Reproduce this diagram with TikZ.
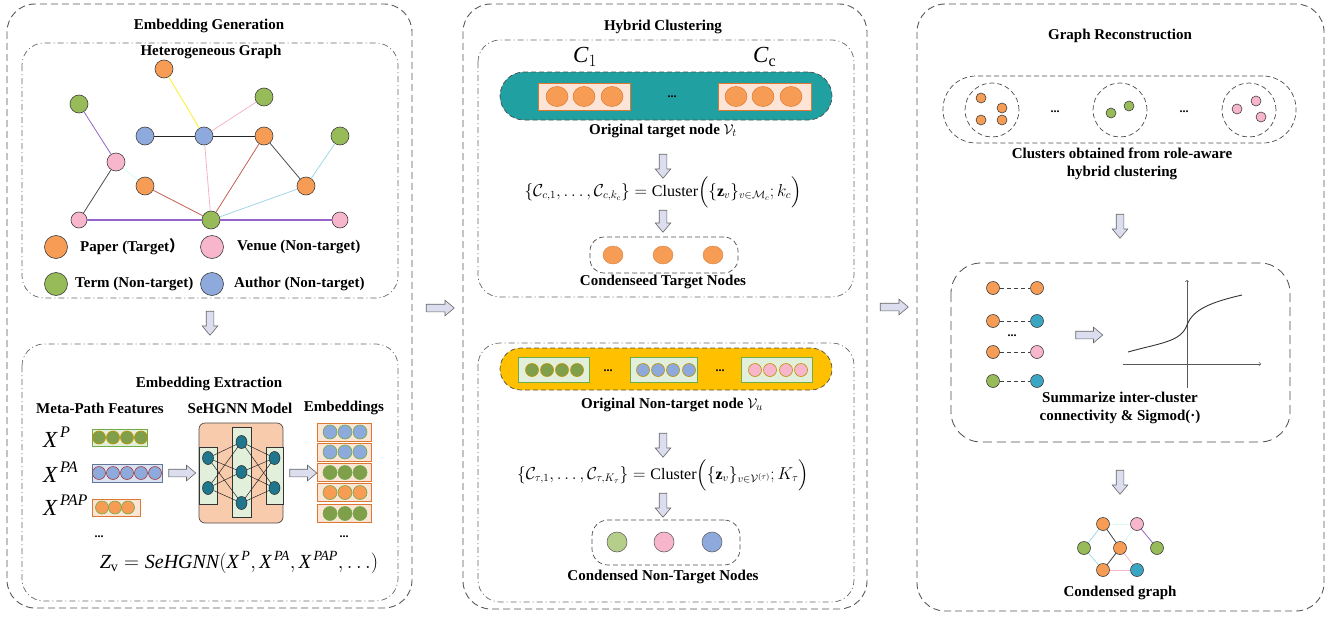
\documentclass[tikz,border=0pt]{standalone}
\usepackage{fontspec}
\setmainfont{Liberation Serif}
\newfontfamily\cjk{Noto Sans CJK SC}
\usepackage{amsmath}
\usepackage{xcolor}
\usetikzlibrary{shapes.geometric,shapes.arrows}

\definecolor{paperc}{RGB}{246,156,84}
\definecolor{venuec}{RGB}{247,182,203}
\definecolor{termc}{RGB}{150,187,88}
\definecolor{authorc}{RGB}{142,169,219}
\definecolor{tealc}{RGB}{58,166,196}
\definecolor{neuronc}{RGB}{32,118,140}
\definecolor{pillteal}{RGB}{32,160,160}
\definecolor{pillgold}{RGB}{255,192,0}
\definecolor{peach}{RGB}{248,203,173}
\definecolor{lightpeach}{RGB}{252,228,214}
\definecolor{lightgreen}{RGB}{226,239,218}
\definecolor{lightblue}{RGB}{218,227,243}
\definecolor{arrowfill}{RGB}{221,221,240}
\definecolor{bordergreen}{RGB}{112,173,71}
\definecolor{bordergold}{RGB}{191,144,0}
\definecolor{bordermaroon}{RGB}{160,64,64}
\definecolor{borderorange}{RGB}{220,120,50}
\definecolor{edgered}{RGB}{196,96,84}
\definecolor{edgepurple}{RGB}{150,100,200}
\definecolor{edgecyan}{RGB}{160,215,230}
\definecolor{edgeice}{RGB}{215,250,250}
\definecolor{edgepink}{RGB}{245,180,200}
\definecolor{edgeyellow}{RGB}{250,240,40}

% italic letters as in Times
\newcommand{\ti}[1]{\textit{#1}}

\begin{document}
\begin{tikzpicture}[x=1pt,y=-1pt]
\tikzstyle{panel} = [draw=black!65, line width=0.9pt, dash pattern=on 7pt off 4pt, rounded corners=28pt]
\tikzstyle{subpanel} = [draw=black!60, line width=0.7pt, dash pattern=on 6pt off 3pt on 1pt off 3pt, rounded corners=22pt]
\tikzstyle{title} = [font=\bfseries\fontsize{15}{18}\selectfont, inner sep=0pt]
\tikzstyle{vert} = [circle, draw=black!75, line width=0.6pt, minimum size=18pt, inner sep=0pt]
\tikzstyle{dot} = [circle, draw=black!75, line width=0.6pt, minimum size=13pt, inner sep=0pt]
\tikzstyle{neuron} = [ellipse, draw=black!85, fill=neuronc, line width=0.5pt, minimum width=11pt, minimum height=13pt, inner sep=0pt]
\tikzstyle{bar} = [rectangle, line width=0.7pt, inner sep=0pt]
\tikzstyle{pill} = [rectangle, draw=black!70, line width=0.7pt, dash pattern=on 5pt off 3pt, inner sep=0pt]
\tikzstyle{ring} = [circle, draw=black!70, line width=0.7pt, dash pattern=on 5pt off 3pt, inner sep=0pt, minimum size=54pt]
\tikzstyle{bigarrow} = [single arrow, draw=black!60, fill=arrowfill, line width=0.6pt, inner sep=3.5pt, single arrow head extend=4pt, single arrow tip angle=80, minimum height=28pt]
\tikzstyle{downarrow} = [bigarrow, shape border rotate=270, minimum height=24pt]
\tikzstyle{link} = [line width=0.8pt]
\tikzstyle{mathbig} = [font=\fontsize{23}{27}\selectfont, inner sep=0pt]
\tikzstyle{formula} = [font=\fontsize{16}{19}\selectfont, inner sep=0pt]
\tikzstyle{dotdot} = [font=\bfseries\fontsize{12}{14}\selectfont, inner sep=0pt]
\useasboundingbox (0,0) rectangle (1335,618);

% panels
\draw[panel] (7,4) rectangle (412,608);
\draw[subpanel] (22,43) rectangle (398,298);
\draw[subpanel] (22,344) rectangle (398,601);
\draw[panel] (463,4) rectangle (867,609);
\draw[subpanel] (478,40) rectangle (854,297);
\draw[subpanel] (478,343) rectangle (854,602);
\draw[panel] (917,4) rectangle (1324,611);

% embedding generation
\node[title] (genT) at (209,26) {Embedding Generation};
\node[title] (hetT) at (211,52) {Heterogeneous Graph};
\node[vert, fill=paperc] (pTop) at (164,69) {};
\node[vert, fill=termc] (tTL) at (79,104) {};
\node[vert, fill=termc] (tTR) at (264,97) {};
\node[vert, fill=authorc] (aL) at (145,136) {};
\node[vert, fill=authorc] (aC) at (204,136) {};
\node[vert, fill=paperc] (pMR) at (264,136) {};
\node[vert, fill=termc] (tR) at (340,136) {};
\node[vert, fill=venuec] (vL) at (116,162) {};
\node[vert, fill=paperc] (pM) at (145,186) {};
\node[vert, fill=paperc] (pR) at (306,186) {};
\node[vert, fill=venuec, minimum size=16pt] (vBL) at (79,220) {};
\node[vert, fill=termc] (tB) at (211,220) {};
\node[vert, fill=venuec, minimum size=16pt] (vBR) at (340,220) {};
\draw[link, edgeyellow] (pTop) -- (aC);
\draw[link, edgepink] (tTR) -- (aC);
\draw[link, black!85] (aL) -- (aC);
\draw[link, black!85] (aC) -- (pMR);
\draw[link, edgepurple] (tTL) -- (vL);
\draw[link, edgeice] (vL) -- (pM);
\draw[link, black!70] (vL) -- (vBL);
\draw[link, edgered] (pM) -- (tB);
\draw[link, edgepink] (aC) -- (tB);
\draw[link, edgered] (pMR) -- (tB);
\draw[link, black!70] (pMR) -- (pR);
\draw[link, edgecyan] (tR) -- (pR);
\draw[link, edgecyan] (pR) -- (tB);
\draw[line width=1.1pt, edgepurple] (vBL) -- (tB);
\draw[line width=1.1pt, edgepurple] (tB) -- (vBR);
% legend
\node[vert, fill=paperc, minimum size=23pt] (lgP) at (56,247) {};
\node[vert, fill=venuec, minimum size=23pt] (lgV) at (212,247) {};
\node[vert, fill=termc, minimum size=23pt] (lgT) at (56,284) {};
\node[vert, fill=authorc, minimum size=23pt] (lgA) at (212,284) {};
\node[title, anchor=west] (lgPt) at (80,247) {Paper (Target{\cjk ）}};
\node[title, anchor=west] (lgVt) at (237,247) {Venue (Non-target)};
\node[title, anchor=west] (lgTt) at (75,284) {Term (Non-target)};
\node[title, anchor=west] (lgAt) at (234,284) {Author (Non-target)};

\node[downarrow] (arGen) at (210,321) {};

% embedding extraction
\node[title] (extT) at (209,384) {Embedding Extraction};
\node[title] (metaT) at (100,408) {Meta-Path Features};
\node[title] (modelT) at (240,408) {SeHGNN Model};
\node[title] (embT) at (344,408) {Embeddings};
\node[mathbig, anchor=base west] (xP) at (43,447) {$\ti{X}^{\,\ti{P}}$};
\node[mathbig, anchor=base west] (xPA) at (43,482) {$\ti{X}^{\,\ti{PA}}$};
\node[mathbig, anchor=base west] (xPAP) at (43,515) {$\ti{X}^{\,\ti{PAP}}$};
\node[bar, draw=bordergreen, fill=lightgreen, minimum width=55pt, minimum height=17pt] (featP) at (119.5,437.5) {};
\foreach \x in {99,113,127,141} \node[dot, fill=termc!85!black, draw=bordergold] (fp\x) at (\x,437.5) {};
\node[bar, draw=authorc!70!black, fill=lightblue, minimum width=70pt, minimum height=18pt] (featPA) at (127,473) {};
\foreach \x in {99,113,127,141,155} \node[dot, fill=authorc, draw=bordermaroon] (fpa\x) at (\x,473) {};
\node[bar, draw=borderorange, fill=lightpeach, minimum width=48pt, minimum height=17pt] (featPAP) at (116,507.5) {};
\foreach \x in {102,115,128} \node[dot, fill=paperc, draw=bordergreen] (fpap\x) at (\x,507.5) {};
\node[dotdot] (moreF) at (99,537) {...};
\node[bigarrow, minimum height=27pt] (arIn) at (180,473) {};
% model
\node[bar, draw=black!70, fill=peach, rounded corners=6pt, minimum width=84pt, minimum height=100pt] (model) at (241,473) {};
\node[bar, draw=black!80, fill=lightgreen, minimum width=18pt, minimum height=57pt] (colL) at (208,475.5) {};
\node[bar, draw=black!80, fill=lightgreen, minimum width=19pt, minimum height=90pt] (colM) at (241.5,472) {};
\node[bar, draw=black!80, fill=lightgreen, minimum width=17pt, minimum height=57pt] (colR) at (274.5,475.5) {};
\foreach \i/\y in {1/458,2/488} \node[neuron] (nl\i) at (208,\y) {};
\foreach \i/\y in {1/442,2/472,3/503} \node[neuron] (nm\i) at (241.5,\y) {};
\foreach \i/\y in {1/458,2/488} \node[neuron] (nr\i) at (274.5,\y) {};
\foreach \i in {1,2} \foreach \j in {1,2,3} {
  \draw[black!85, line width=0.5pt] (nl\i) -- (nm\j);
  \draw[black!85, line width=0.5pt] (nm\j) -- (nr\i);
}
\node[bigarrow, minimum height=27pt] (arOut) at (301,473) {};
\foreach \k/\y/\c in {1/432/authorc,2/452/authorc,3/472.5/termc!85!black,4/492.5/paperc,5/513.5/termc!85!black} {
  \node[bar, draw=borderorange, fill=lightpeach, minimum width=54pt, minimum height=18pt] (emb\k) at (344,\y) {};
  \foreach \x in {330,345,360} \node[dot, fill=\c, draw=bordergreen, minimum size=14pt] (emb\k-\x) at (\x,\y) {};
}
\node[dotdot] (moreE) at (344,537) {...};
\node[font=\fontsize{20}{24}\selectfont, inner sep=0pt, anchor=base] (zv) at (239,568)
  {$\ti{Z}_{\mathrm{v}} = \ti{SeHGNN}(\ti{X}^{\,\ti{P}}, \ti{X}^{\,\ti{PA}}, \ti{X}^{\,\ti{PAP}},\ldots)$};

\node[bigarrow] (arGC) at (438,308) {};

% hybrid clustering, target part
\node[title] (hybT) at (663,27) {Hybrid Clustering};
\node[mathbig, anchor=base west] (c1) at (573,63) {$\ti{C}_1$};
\node[mathbig, anchor=base west] (cc) at (753,63) {$\ti{C}_{\mathrm{c}}$};
\node[pill, fill=pillteal, rounded corners=24pt, minimum width=332pt, minimum height=48pt] (tpill) at (666,96) {};
\node[bar, draw=borderorange, fill=lightpeach, minimum width=92pt, minimum height=27pt] (grp1) at (584,96.5) {};
\node[bar, draw=borderorange, fill=lightpeach, minimum width=93pt, minimum height=27pt] (grpc) at (764.5,96.5) {};
\foreach \x in {557,584,612,736,763,791} \node[ellipse, draw=borderorange, fill=paperc, line width=0.5pt, minimum width=22pt, minimum height=20pt, inner sep=0pt] (to\x) at (\x,96.5) {};
\node[dotdot] (moreT) at (672,97) {...};
\node[title] (origT) at (663,131) {Original target node $\mathcal{V}_t$};
\node[downarrow] (arT1) at (663,164) {};
\node[formula] (clT) at (663,192)
  {$\{\mathcal{C}_{c,1},\ldots,\mathcal{C}_{c,k_c}\} = \mathrm{Cluster}\Big(\{\mathbf{z}_v\}_{v\in\mathcal{M}_c};k_c\Big)$};
\node[downarrow, minimum height=22pt] (arT2) at (663,219) {};
\node[pill, rounded corners=14pt, minimum width=148pt, minimum height=36pt] (condT) at (664,255) {};
\foreach \x in {613,663,713} \node[ellipse, draw=paperc!85!black, fill=paperc, line width=0.4pt, minimum width=20pt, minimum height=18pt, inner sep=0pt] (ct\x) at (\x,255) {};
\node[title] (condTT) at (663,282) {Condenseed Target Nodes};

% hybrid clustering, non-target part
\node[pill, fill=pillgold, rounded corners=21pt, minimum width=332pt, minimum height=42pt] (npill) at (666,369) {};
\node[bar, draw=bordergreen, fill=lightgreen, minimum width=71pt, minimum height=25pt] (grpT) at (553.5,369.5) {};
\node[bar, draw=bordergreen, fill=lightgreen, minimum width=67pt, minimum height=25pt] (grpA) at (663.5,369.5) {};
\node[bar, draw=bordergreen, fill=lightgreen, minimum width=71pt, minimum height=25pt] (grpV) at (776.5,369.5) {};
\foreach \x in {532,547,562,577} \node[dot, fill=termc!85!black, draw=bordergold] (nt\x) at (\x,370) {};
\foreach \x in {643,658,673,689} \node[dot, fill=authorc, draw=bordergold] (na\x) at (\x,370) {};
\foreach \x in {755,770,786,801} \node[dot, fill=venuec, draw=bordergold] (nv\x) at (\x,370) {};
\node[dotdot] (moreN1) at (608,371) {...};
\node[dotdot] (moreN2) at (720,371) {...};
\node[title] (origN) at (672,405) {Original Non-target node $\mathcal{V}_u$};
\node[downarrow] (arN1) at (663,443) {};
\node[formula] (clN) at (663,475)
  {$\{\mathcal{C}_{\tau,1},\ldots,\mathcal{C}_{\tau,K_\tau}\} = \mathrm{Cluster}\Big(\{\mathbf{z}_v\}_{v\in\mathcal{V}^{(\tau)}};K_\tau\Big)$};
\node[downarrow] (arN2) at (663,503) {};
\node[pill, rounded corners=16pt, minimum width=148pt, minimum height=45pt] (condN) at (666,542.5) {};
\node[vert, fill=termc!70!white, draw=black!60, minimum size=20pt] (cnT) at (617,542) {};
\node[vert, fill=venuec, draw=black!60, minimum size=20pt] (cnV) at (664,542) {};
\node[vert, fill=authorc, draw=black!60, minimum size=20pt] (cnA) at (712,542) {};
\node[title] (condNT) at (663,577) {Condensed Non-Target Nodes};

\node[bigarrow] (arCR) at (892,307) {};

% graph reconstruction
\node[title] (recT) at (1120,36) {Graph Reconstruction};
\node[pill, rounded corners=33pt, minimum width=353pt, minimum height=67pt] (clPill) at (1119.5,109.5) {};
\node[ring] (clus1) at (992,110) {};
\node[ring] (clus2) at (1120,110) {};
\node[ring] (clus3) at (1249,110) {};
\foreach \i/\x/\y in {1/981/98,2/1002/108,3/981/120,4/1002/120} \node[dot, fill=paperc, minimum size=10pt] (co\i) at (\x,\y) {};
\foreach \i/\x/\y in {1/1111/113,2/1129/106} \node[dot, fill=termc, minimum size=10pt] (cg\i) at (\x,\y) {};
\foreach \i/\x/\y in {1/1237/109,2/1256/101,3/1261/117} \node[dot, fill=venuec, minimum size=10pt] (cp\i) at (\x,\y) {};
\node[dotdot] (moreC1) at (1055,112) {...};
\node[dotdot] (moreC2) at (1184,112) {...};
\node[title, align=center] (clusT) at (1122,164) {Clusters obtained from role-aware\\hybrid clustering};
\node[downarrow] (arR1) at (1120,224) {};
\draw[draw=black!70, line width=0.8pt, dash pattern=on 9pt off 5pt, rounded corners=30pt] (951,263) rectangle (1290,442);
% inter-cluster pairs
\foreach \i/\y/\a/\b in {1/288/paperc/paperc,2/321/paperc/tealc,3/352/paperc/venuec,4/381/termc/tealc} {
  \node[dot, fill=\a] (pl\i) at (993,\y) {};
  \node[dot, fill=\b] (pr\i) at (1037,\y) {};
  \draw[black!75, line width=0.7pt, dash pattern=on 4pt off 3pt] (pl\i) -- (pr\i);
}
\node[dotdot] (moreP) at (1012,336) {...};
\node[bigarrow, minimum height=27pt] (arSig) at (1087,335) {};
% sigmoid
\coordinate (yB) at (1187,388);
\coordinate (yT) at (1187,280);
\coordinate (xL) at (1123,364);
\coordinate (xR) at (1261,364);
\draw[->, black!65, line width=0.6pt] (yB) -- (yT);
\draw[->, black!65, line width=0.6pt] (xL) -- (xR);
\draw[black!80, line width=0.9pt] (1128,352) .. controls (1160,343) and (1181,342) .. (1187,325) .. controls (1193,309) and (1212,302) .. (1242,295);
\node[title, align=center] (sumT) at (1120,408) {Summarize inter-cluster\\connectivity \& Sigmod(·)};
\node[downarrow] (arR2) at (1120,480) {};
% condensed graph
\node[dot, fill=paperc] (gA) at (1103,524) {};
\node[dot, fill=venuec] (gB) at (1137,524) {};
\node[dot, fill=termc] (gC) at (1084,548) {};
\node[dot, fill=paperc] (gD) at (1120,548) {};
\node[dot, fill=termc] (gE) at (1157,548) {};
\node[dot, fill=paperc] (gF) at (1103,570) {};
\node[dot, fill=tealc] (gG) at (1137,570) {};
\draw[link, edgeice] (gA) -- (gB);
\draw[link, edgecyan] (gA) -- (gC);
\draw[link, black!75] (gA) -- (gD);
\draw[link, edgeice] (gB) -- (gD);
\draw[link, edgepurple] (gB) -- (gE);
\draw[link, edgecyan] (gC) -- (gF);
\draw[link, black!75] (gD) -- (gF);
\draw[link, edgepink] (gD) -- (gG);
\draw[link, edgepink] (gF) -- (gG);
\node[title] (condG) at (1120,593) {Condensed graph};
\end{tikzpicture}
\end{document}
